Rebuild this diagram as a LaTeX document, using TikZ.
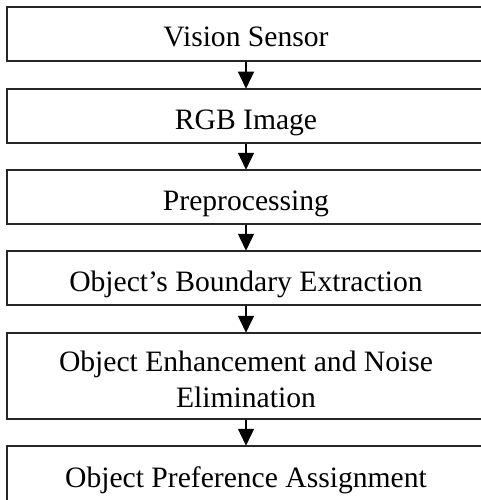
\documentclass[tikz,border=0pt]{standalone}
\usepackage{fontspec}
\setmainfont{Liberation Serif}
\usetikzlibrary{arrows.meta}
\begin{document}
\begin{tikzpicture}[x=1pt,y=-1pt,
  stagebox/.style={draw=black!85, line width=1.5pt, minimum width=478pt, minimum height=54pt,
    inner sep=0pt, align=center, font=\fontsize{29.6pt}{36pt}\selectfont},
  oneline/.style={text height=26pt, text depth=0pt},
  flowarrow/.style={draw=black, line width=1.4pt, -{Triangle[width=16pt,length=17pt]}, shorten >=-0.5pt}]
\useasboundingbox (0,0) rectangle (481,500);
\clip (0,0) rectangle (481,500);
\node[stagebox, oneline] (b1) at (246,34) {Vision Sensor};
\node[stagebox, oneline] (b2) at (246,116) {RGB Image};
\node[stagebox, oneline] (b3) at (246,197) {Preprocessing};
\node[stagebox, oneline] (b4) at (246,278) {Object’s Boundary Extraction};
\node[stagebox, minimum height=86pt] (b5) at (246,376) {\rule{0pt}{28pt}Object Enhancement and Noise\\Elimination};
\node[stagebox, oneline, minimum height=56pt] (b6) at (246,474) {Object Preference Assignment};
\draw[flowarrow] (b1.south) -- (b2.north);
\draw[flowarrow] (b2.south) -- (b3.north);
\draw[flowarrow] (b3.south) -- (b4.north);
\draw[flowarrow] (b4.south) -- (b5.north);
\draw[flowarrow] (b5.south) -- (b6.north);
\end{tikzpicture}
\end{document}
